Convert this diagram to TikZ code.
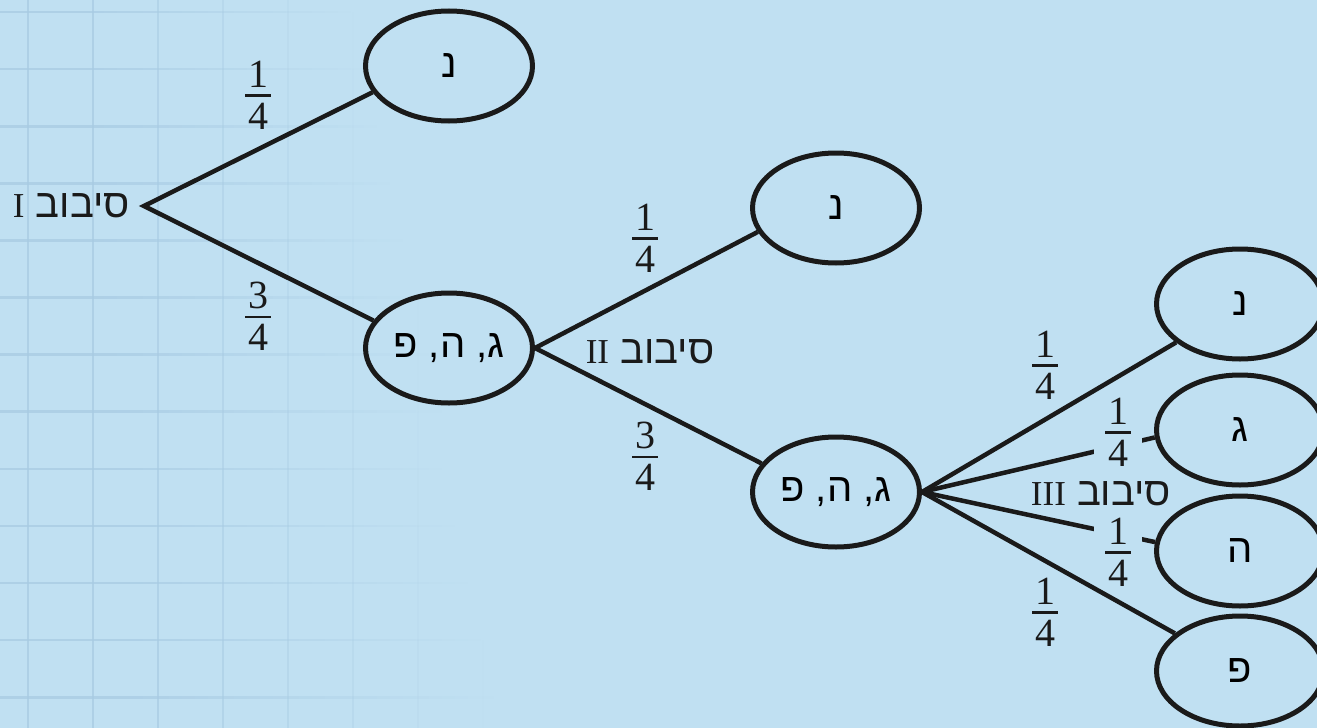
\documentclass[tikz,border=0pt]{standalone}
\usepackage{fontspec}
\usetikzlibrary{shapes.geometric}
\setmainfont{Liberation Serif}
\newfontfamily\hebfont[Script=Hebrew]{Liberation Sans}
\TeXXeTstate=1

\definecolor{bg}{RGB}{192,224,242}
\definecolor{gridc}{RGB}{168,203,227}
\definecolor{ink}{RGB}{26,26,26}

\newcommand\hebtext{\fontsize{40}{48}\selectfont\hebfont}
\newcommand\numtext{\fontsize{40}{48}\selectfont\rmfamily}
\newcommand\romtext{\fontsize{35}{42}\selectfont\rmfamily}
% stacked fraction with a short bar
\newcommand\frc[2]{\vbox{\hbox to 26pt{\hss#1\hss}\kern7pt\hrule height 2.4pt\kern6pt\hbox to 26pt{\hss#2\hss}}}

\tikzset{
  oval/.style={ellipse, draw=ink, line width=5pt, minimum width=167pt,
    minimum height=110pt, inner sep=0pt, font=\hebtext},
  branch/.style={draw=ink, line width=4.5pt},
  prob/.style={inner sep=0pt, font=\numtext, text=ink},
  probcut/.style={prob, fill=bg, inner xsep=11pt, inner ysep=0pt},
  roundlbl/.style={inner sep=0pt, font=\hebtext, text=ink},
  gridline/.style={draw=gridc, line width=2.6pt},
}

\begin{document}
\begin{tikzpicture}[x=1pt, y=-1pt]
  % page and background
  \fill[bg] (0,0) rectangle (1317,728);
  \useasboundingbox (0,0) rectangle (1317,728);
  \clip (0,0) rectangle (1317,728);

  % faint squared paper on the left, fading out to the right
  \foreach \i in {0,...,7} {
    \foreach \j in {-1,...,12} {
      \pgfmathsetmacro\xx{28+65*\i}
      \pgfmathsetmacro\ya{12+57.1*\j}
      \pgfmathsetmacro\yb{12+57.1*(\j+1)}
      \pgfmathsetmacro\op{max(0,min(0.75,1-\xx/(500-0.2*(728-0.5*(\ya+\yb)))))}
      \draw[gridline, draw opacity=\op] (\xx,\ya) -- (\xx,\yb);
    }
  }
  \foreach \j in {0,...,12} {
    \foreach \i in {0,...,39} {
      \pgfmathsetmacro\yy{12+57.1*\j}
      \pgfmathsetmacro\xa{13*\i}
      \pgfmathsetmacro\xb{13*(\i+1)}
      \pgfmathsetmacro\op{max(0,min(0.75,1-(0.5*(\xa+\xb))/(500-0.2*(728-\yy))))}
      \draw[gridline, draw opacity=\op, line cap=butt] (\xa,\yy) -- (\xb,\yy);
    }
  }

  % tree
  \coordinate (root) at (144,206);
  \node[oval] (n1) at (449,66)  {\beginR נ\endR};
  \node[oval] (m1) at (449,348) {\beginR ג, ה, פ\endR};
  \node[oval] (n2) at (836,208) {\beginR נ\endR};
  \node[oval] (m2) at (836,492) {\beginR ג, ה, פ\endR};
  \node[oval] (n3) at (1240,304) {\beginR נ\endR};
  \node[oval] (g3) at (1240,430) {\beginR ג\endR};
  \node[oval] (h3) at (1240,551) {\beginR ה\endR};
  \node[oval] (p3) at (1240,671) {\beginR פ\endR};

  \draw[branch] (n1.199) -- (root) -- (m1.160);
  \draw[branch] (n2.197) -- (m1.east) -- (m2.159);
  \draw[branch] (m2.east) -- (g3.185);
  \draw[branch] (m2.east) -- (h3.174);

  % probabilities on the two middle branches break the line
  \node[probcut] (p3b) at (1118,432) {\frc{1}{4}};
  \node[probcut] (p3c) at (1118,552) {\frc{1}{4}};

  \draw[branch] (m2.east) -- (n3.211);
  \draw[branch] (m2.east) -- (p3.150);

  % round labels
  \node[roundlbl, anchor=east] (r1) at (130,206) {\beginR סיבוב {\romtext I}\endR};
  \node[roundlbl] (r2) at (650,352) {\beginR סיבוב {\romtext II}\endR};
  \node[roundlbl] (r3) at (1101,494) {\beginR סיבוב {\romtext III}\endR};

  % probabilities
  \node[prob] (p1a) at (258,95)  {\frc{1}{4}};
  \node[prob] (p1b) at (258,316) {\frc{3}{4}};
  \node[prob] (p2a) at (645,238) {\frc{1}{4}};
  \node[prob] (p2b) at (645,456) {\frc{3}{4}};
  \node[prob] (p3a) at (1045,365) {\frc{1}{4}};
  \node[prob] (p3d) at (1045,612) {\frc{1}{4}};
\end{tikzpicture}
\end{document}
